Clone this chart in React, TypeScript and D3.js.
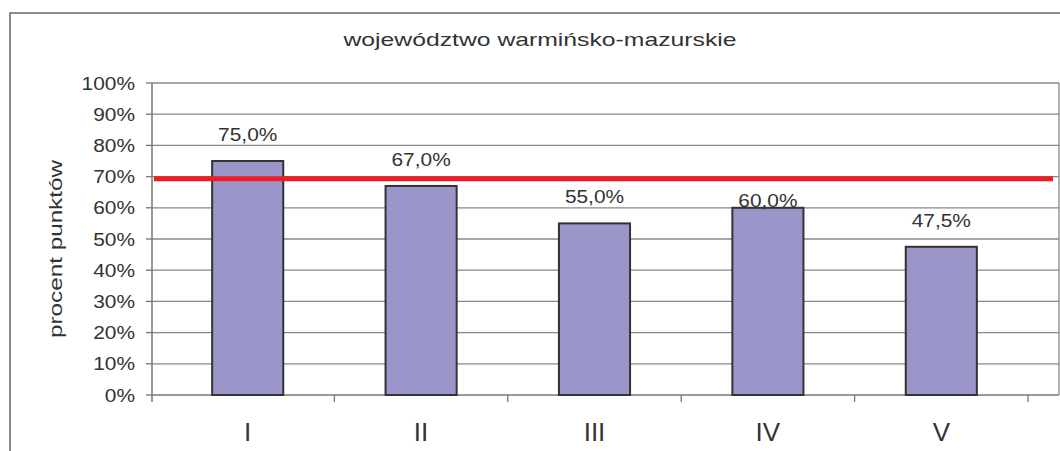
import React from "react";
import * as d3 from "d3";

const width = 1060;
const height = 451;

const title = "województwo warmińsko-mazurskie";
const yTitle = "procent punktów";
const categories = ["I", "II", "III", "IV", "V"];
const values = [75.0, 67.0, 55.0, 60.0, 47.5];
const threshold = 69.3;
const yTicks = [0, 10, 20, 30, 40, 50, 60, 70, 80, 90, 100];

const plot = { left: 152, right: 1059, top: 83, bottom: 395 };
const font = "'Liberation Sans', Arial, sans-serif";
const textColor = "#333";
const stretch = 1.13;

const fmt = (v: number) => v.toFixed(1).replace(".", ",") + "%";

const App = () => {
  const y = d3.scaleLinear().domain([0, 100]).range([plot.bottom, plot.top]);
  const x = d3.scaleBand().domain(categories).range([161, 1028]).padding(0);
  const barW = x.bandwidth() * 0.41;

  const redLine = d3
    .line<number>()
    .x((_, i) => (i === 0 ? plot.left + 2 : plot.right - 6))
    .y((d) => y(d));

  const sText = (tx: number, ty: number) =>
    `translate(${tx},${ty}) scale(${stretch},1)`;

  // label sits 20px above the bar, unless that would hit the red line,
  // then it is pushed down onto the bar top (as in the original)
  const labelY = (v: number) => {
    const base = y(v) - 20;
    const ry = y(threshold);
    if (base > ry - 4 && base - 14 < ry + 4) return y(v) - 1;
    return base;
  };

  return (
    <svg
      width={width}
      height={height}
      style={{ position: "absolute", left: 0, top: 0, background: "#fff" }}
      fontFamily={font}
    >
      <rect x={0} y={0} width={width} height={height} fill="#fff" />
      {/* outer chart frame, cut off by the window */}
      <rect
        x={10}
        y={13}
        width={1100}
        height={500}
        fill="none"
        stroke="#666"
        strokeWidth={1.5}
      />

      <text
        x={540}
        y={46}
        textAnchor="middle"
        fontSize={19}
        fill={textColor}
        textLength={393}
        lengthAdjust="spacingAndGlyphs"
      >
        {title}
      </text>

      {/* gridlines */}
      {yTicks.map((t) => (
        <g key={t}>
          <line
            x1={plot.left}
            x2={plot.right}
            y1={y(t)}
            y2={y(t)}
            stroke={t === 0 ? "#777" : "#888"}
            strokeWidth={1.3}
          />
          <line
            x1={plot.left - 6}
            x2={plot.left}
            y1={y(t)}
            y2={y(t)}
            stroke="#777"
            strokeWidth={1.3}
          />
          <text
            transform={sText(135, y(t))}
            dy="0.36em"
            textAnchor="end"
            fontSize={18.5}
            fill={textColor}
          >
            {t}%
          </text>
        </g>
      ))}
      <line
        x1={plot.right}
        x2={plot.right}
        y1={plot.top}
        y2={plot.bottom}
        stroke="#888"
        strokeWidth={1.3}
      />
      <line
        x1={plot.left}
        x2={plot.left}
        y1={plot.top}
        y2={plot.bottom + 7}
        stroke="#777"
        strokeWidth={1.5}
      />

      {/* category ticks at band boundaries */}
      {categories.slice(1).map((c) => (
        <line
          key={c}
          x1={x(c)!}
          x2={x(c)!}
          y1={plot.bottom}
          y2={plot.bottom + 7}
          stroke="#777"
          strokeWidth={1.3}
        />
      ))}
      <line
        x1={x(categories[4])! + x.bandwidth()}
        x2={x(categories[4])! + x.bandwidth()}
        y1={plot.bottom}
        y2={plot.bottom + 7}
        stroke="#777"
        strokeWidth={1.3}
      />

      {/* bars */}
      {categories.map((c, i) => {
        const cx = x(c)! + x.bandwidth() / 2;
        return (
          <g key={c}>
            <rect
              x={cx - barW / 2}
              y={y(values[i])}
              width={barW}
              height={y(0) - y(values[i])}
              fill="#9b96c9"
              stroke="#333"
              strokeWidth={2}
            />
            <text
              x={cx}
              y={441}
              textAnchor="middle"
              fontSize={26}
              fill={textColor}
            >
              {c}
            </text>
          </g>
        );
      })}

      {/* reference line */}
      <path
        d={redLine([threshold, threshold]) ?? ""}
        fill="none"
        stroke="#ee1c25"
        strokeWidth={5}
      />

      {/* value labels */}
      {categories.map((c, i) => (
        <text
          key={c}
          transform={sText(x(c)! + x.bandwidth() / 2, labelY(values[i]))}
          textAnchor="middle"
          fontSize={18.5}
          fill={textColor}
        >
          {fmt(values[i])}
        </text>
      ))}

      <text
        transform={`translate(62,249) rotate(-90)`}
        textAnchor="middle"
        fontSize={19}
        fill={textColor}
        textLength={178}
        lengthAdjust="spacingAndGlyphs"
      >
        {yTitle}
      </text>
    </svg>
  );
};

export default App;
